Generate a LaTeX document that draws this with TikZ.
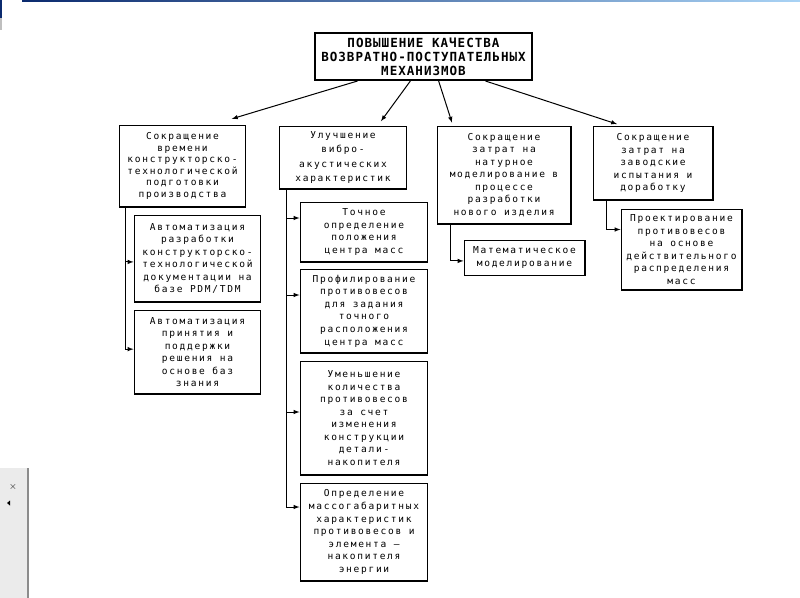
\documentclass[tikz,border=0pt]{standalone}
\usepackage{fontspec}
\newfontfamily\boxfont[LetterSpace=18]{DejaVu Sans Mono}
\newfontfamily\titlefont[LetterSpace=8]{DejaVu Sans Mono}
\usepackage{xcolor}
\usetikzlibrary{arrows}
\usetikzlibrary{positioning}
\definecolor{navy}{HTML}{0B2A6E}
\definecolor{skyline}{HTML}{A9D3F5}
\tikzset{
box0/.style={draw=black, line width=2pt, rectangle, align=center, inner sep=0pt, font=\titlefont\bfseries\fontsize{12.5}{14}\selectfont},
box1/.style={draw=black, line width=1pt, rectangle, align=center, inner sep=0pt, font=\boxfont\fontsize{9.5}{12.5}\selectfont},
link/.style={line width=1pt, -latex},
}

\begin{document}
\begin{tikzpicture}[x=0.035cm, y=-0.035cm]
\useasboundingbox (0,0) rectangle (800,598);

\shade[left color=navy, right color=skyline] (22,0) rectangle (800,1.5);
\fill[navy] (0,0) rectangle (1.5,18);
\fill[black!25] (0,18) rectangle (1.5,30);
\fill[black!8] (0,468) rectangle (28,598);
\draw[black!45, line width=1pt] (28,468) -- (28,598);
\node (close) at (13,487) {$\times$};
\fill (7,503) -- (10,500.5) -- (10,505.5) -- cycle;

\node[box0, minimum width=7.6cm, minimum height=1.645cm] (c0) at (423.5,56.5) {ПОВЫШЕНИЕ КАЧЕСТВА\\ВОЗВРАТНО-ПОСТУПАТЕЛЬНЫХ\\МЕХАНИЗМОВ};

\node[box1, minimum width=4.445cm, minimum height=2.87cm, font=\boxfont\fontsize{9.5}{11.5}\selectfont] (c1) at (182.5,166) {Сокращение\\времени\\конструкторско-\\технологической\\подготовки\\производства};
\node[box1, minimum width=4.48cm, minimum height=2.205cm, font=\boxfont\fontsize{9.5}{14}\selectfont] (c2) at (343,157.5) {Улучшение\\вибро-\\акустических\\характеристик};
\node[box1, minimum width=4.69cm, minimum height=3.43cm] (c3) at (504,175) {Сокращение\\затрат на\\натурное\\моделирование в\\процессе\\разработки\\нового изделия};
\node[box1, minimum width=4.2cm, minimum height=2.59cm] (c4) at (653,163) {Сокращение\\затрат на\\заводские\\испытания и\\доработку};

\node[box1, minimum width=4.445cm, minimum height=3.045cm] (c11) at (197.5,258.5) {Автоматизация\\разработки\\конструкторско-\\технологической\\документации на\\базе PDM/TDM};
\node[box1, minimum width=4.445cm, minimum height=2.94cm] (c12) at (197.5,352) {Автоматизация\\принятия и\\поддержки\\решения на\\основе баз\\знания};

\node[box1, minimum width=4.48cm, minimum height=2.1cm] (c21) at (364,232) {Точное\\определение\\положения\\центра масс};
\node[box1, minimum width=4.48cm, minimum height=2.94cm] (c22) at (364,311) {Профилирование\\противовесов\\для задания\\точного\\расположения\\центра масс};
\node[box1, minimum width=4.48cm, minimum height=3.99cm] (c23) at (364,418) {Уменьшение\\количества\\противовесов\\за счет\\изменения\\конструкции\\детали-\\накопителя};
\node[box1, minimum width=4.48cm, minimum height=3.43cm] (c24) at (364,532) {Определение\\массогабаритных\\характеристик\\противовесов и\\элемента –\\накопителя\\энергии};

\node[box1, minimum width=4.235cm, minimum height=1.225cm] (c31) at (524.5,257.5) {Математическое\\моделирование};
\node[box1, minimum width=4.235cm, minimum height=2.835cm] (c41) at (681.5,249.5) {Проектирование\\противовесов\\на основе\\действительного\\распределения\\масс};

\draw[link] ([xshift=-2.31cm]c0.south) -- ([xshift=1.73cm,yshift=0.2cm]c1.north);
\draw[link] ([xshift=-0.46cm]c0.south) -- ([xshift=1.33cm,yshift=0.15cm]c2.north);
\draw[link] ([xshift=0.53cm]c0.south) -- ([xshift=-1.82cm,yshift=0.1cm]c3.north);
\draw[link] ([xshift=2.17cm]c0.south) -- ([xshift=-1.26cm,yshift=0.05cm]c4.north);

\draw[link] ([xshift=0.245cm]c1.south west) |- ([yshift=-0.12cm]c11.west);
\draw[link] ([xshift=0.245cm]c1.south west) |- ([yshift=0.1cm]c12.west);

\draw[link] ([xshift=0.28cm]c2.south west) |- ([yshift=0.49cm]c21.west);
\draw[link] ([xshift=0.28cm]c2.south west) |- ([yshift=0.56cm]c22.west);
\draw[link] ([xshift=0.28cm]c2.south west) |- ([yshift=0.21cm]c23.west);
\draw[link] ([xshift=0.28cm]c2.south west) |- ([yshift=0.875cm]c24.west);

\draw[link] ([xshift=0.49cm]c3.south west) |- ([yshift=-0.12cm]c31.west);
\draw[link] ([xshift=0.49cm]c4.south west) |- ([yshift=0.7cm]c41.west);

\end{tikzpicture}
\end{document}
